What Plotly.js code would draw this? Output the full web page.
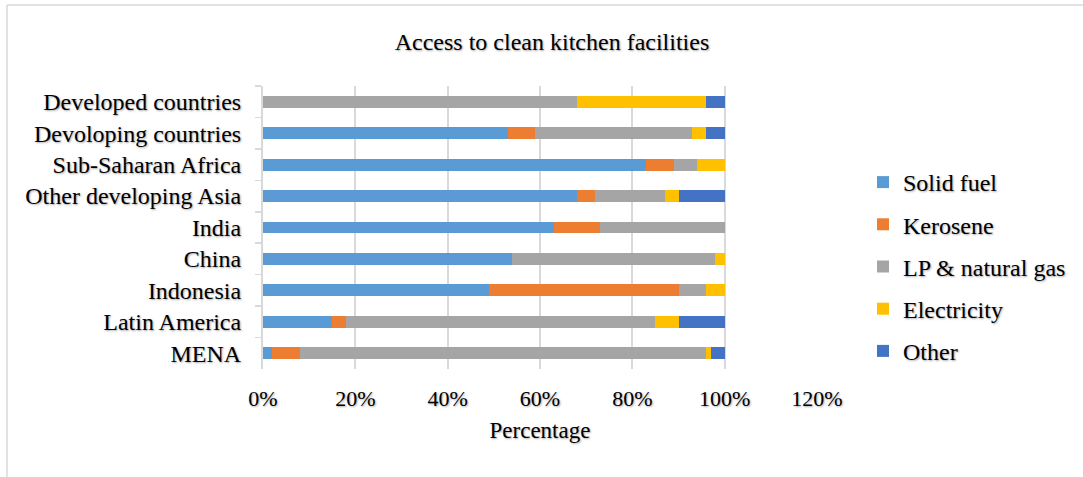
<!DOCTYPE html>
<html>
<head>
<meta charset="utf-8">
<script src="https://cdn.plot.ly/plotly-3.0.1.min.js"></script>
<style>html,body{margin:0;padding:0;background:#fff;}#chart{width:1083px;height:477px;}</style>
</head>
<body>
<div id="chart"></div>
<script>
const categories = ["Developed countries","Devoloping countries","Sub-Saharan Africa","Other developing Asia","India","China","Indonesia","Latin America","MENA"];
const solidFuel   = [0, 53, 83, 68, 63, 54, 49, 15, 2];
const kerosene    = [0, 6, 6, 4, 10, 0, 41, 3, 6];
const lpNatGas    = [68, 34, 5, 15, 27, 44, 6, 67, 88];
const electricity = [28, 3, 6, 3, 0, 2, 4, 5, 1];
const other       = [4, 4, 0, 10, 0, 0, 0, 10, 3];
const seriesNames = ["Solid fuel","Kerosene","LP & natural gas","Electricity","Other"];
const seriesColors = ["#5B9BD5","#ED7D31","#A5A5A5","#FFC000","#4472C4"];
const seriesData = [solidFuel, kerosene, lpNatGas, electricity, other];
const xTickVals = [0, 0.2, 0.4, 0.6, 0.8, 1.0, 1.2];

const shadow = "1px 1px 2px rgba(0,0,0,0.35)";
const FONT = '"Liberation Serif", "Times New Roman", serif';

const traces = seriesData.map((vals, i) => ({
  type: "bar",
  orientation: "h",
  name: seriesNames[i],
  y: categories,
  x: vals.map(v => v / 100),
  marker: {color: seriesColors[i], line: {width: 0}},
  legendgroup: "g" + i,
  hoverinfo: "name+x"
}));

const M = {l: 263, r: 266, t: 86, b: 108};
const W = 1083, H = 477;
const pw = W - M.l - M.r, ph = H - M.t - M.b;
const px = v => (v - M.l) / pw;
const py = v => (H - M.b - v) / ph;

const layout = {
  width: W, height: H,
  margin: M,
  paper_bgcolor: "#fff",
  plot_bgcolor: "#fff",
  barmode: "stack",
  bargap: 0.62,
  font: {family: FONT, color: "#000", shadow: shadow},
  title: {
    text: "Access to clean kitchen facilities",
    font: {family: FONT, size: 24, color: "#000", shadow: shadow},
    x: 552 / W, xref: "container", xanchor: "center",
    y: 1 - 42 / H, yref: "container", yanchor: "middle"
  },
  xaxis: {
    range: [0, 1.2],
    tickvals: xTickVals,
    tickformat: ".0%",
    showgrid: true,
    gridcolor: "#D9D9D9",
    gridwidth: 2,
    zeroline: false,
    showline: false,
    ticks: "",
    ticklabelstandoff: 14,
    tickfont: {family: FONT, size: 22, color: "#000", shadow: shadow},
    title: {text: "Percentage", standoff: 11, font: {family: FONT, size: 23, color: "#000", shadow: shadow}},
    fixedrange: true
  },
  yaxis: {
    type: "category",
    categoryorder: "array",
    categoryarray: categories,
    autorange: "reversed",
    showgrid: false,
    showline: true,
    linecolor: "#D9D9D9",
    linewidth: 2,
    ticks: "outside",
    tickson: "boundaries",
    ticklen: 6,
    tickcolor: "#D9D9D9",
    tickwidth: 1.5,
    ticklabelstandoff: 15,
    tickfont: {family: FONT, size: 24, color: "#000", shadow: shadow},
    fixedrange: true
  },
  legend: {
    x: px(863), xanchor: "left",
    y: py(160), yanchor: "top",
    traceorder: "grouped",
    tracegroupgap: 8,
    font: {family: FONT, size: 24, color: "#000", shadow: shadow},
    bgcolor: "rgba(0,0,0,0)"
  },
  shapes: [
    {type: "line", xref: "paper", yref: "paper", x0: px(7), x1: px(7), y0: py(5), y1: py(477), line: {color: "#D9D9D9", width: 1.5}},
    {type: "line", xref: "paper", yref: "paper", x0: px(7), x1: px(1083), y0: py(5), y1: py(5), line: {color: "#D9D9D9", width: 1.5}}
  ],
  showlegend: true
};

Plotly.newPlot("chart", traces, layout, {displayModeBar: false, staticPlot: true});
</script>
</body>
</html>
